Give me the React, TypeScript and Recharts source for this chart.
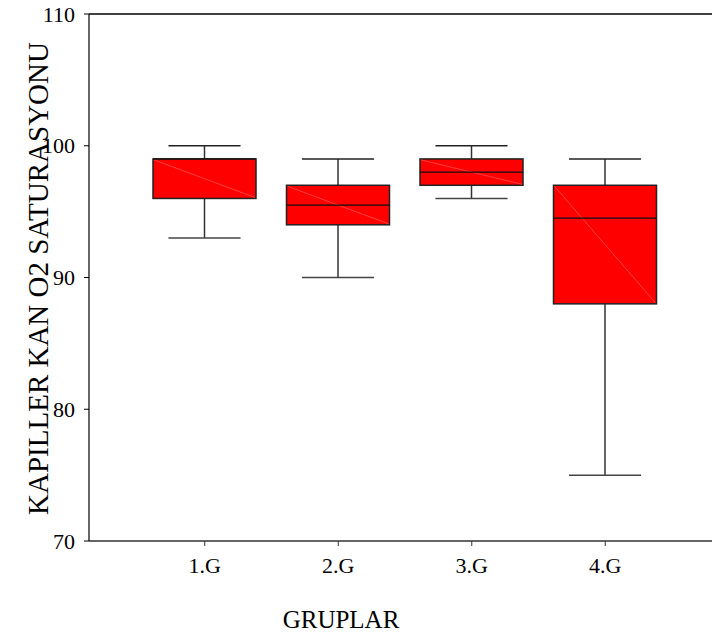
import { Bar, ComposedChart, ReferenceLine, XAxis, YAxis } from "recharts";

const groups = ["1.G", "2.G", "3.G", "4.G"];
const whiskerLow = [93, 90, 96, 75];
const quartile1 = [96, 94, 97, 88];
const medians = [99, 95.5, 98, 94.5];
const quartile3 = [99, 97, 99, 97];
const whiskerHigh = [100, 99, 100, 99];
const yTicks = [70, 80, 90, 100, 110];

const data = groups.map((name, i) => ({
  name,
  min: whiskerLow[i],
  q1: quartile1[i],
  median: medians[i],
  q3: quartile3[i],
  max: whiskerHigh[i]
}));

const FONT = "'Liberation Serif', 'Times New Roman', serif";

function BoxShape(props: any) {
  const { x, y, width, height, payload } = props;
  const top = Math.min(y, y + height);
  const bottom = Math.max(y, y + height);
  const span = payload.max - payload.min;
  // linear scale in pixels, derived from the bar's own min/max
  const py = (v: number) => top + ((payload.max - v) / span) * (bottom - top);
  const cx = x + width / 2;
  const capHalf = width * 0.35;
  const yQ1 = py(payload.q1);
  const yQ3 = py(payload.q3);
  const yMed = py(payload.median);

  return (
    <g>
      <line x1={cx} x2={cx} y1={top} y2={yQ3} stroke="#333" strokeWidth={1.5} />
      <line x1={cx} x2={cx} y1={yQ1} y2={bottom} stroke="#333" strokeWidth={1.5} />
      <line x1={cx - capHalf} x2={cx + capHalf} y1={top} y2={top} stroke="#222" strokeWidth={1.5} />
      <line x1={cx - capHalf} x2={cx + capHalf} y1={bottom} y2={bottom} stroke="#444" strokeWidth={1.5} />
      <rect x={x} y={yQ3} width={width} height={yQ1 - yQ3} fill="#ff0000" stroke="#222" strokeWidth={1.5} />
      <line x1={x + 1} y1={yQ3 + 1} x2={x + width - 1} y2={yQ1 - 1} stroke="#ff6a6a" strokeWidth={0.6} />
      <line x1={x} x2={x + width} y1={yMed} y2={yMed} stroke="#111" strokeWidth={1.3} />
    </g>
  );
}

function XTick({ x, y, payload }: any) {
  return (
    <text x={x} y={y} dy="0.71em" textAnchor="middle" fontFamily={FONT} fontSize={22} fill="#000">
      {payload.value}
    </text>
  );
}

function YTick({ x, y, payload }: any) {
  return (
    <text x={x} y={y} dy="0.35em" textAnchor="end" fontFamily={FONT} fontSize={22} fill="#000">
      {payload.value}
    </text>
  );
}

export default function App() {
  return (
    <div style={{ position: "absolute", left: 0, top: 0, width: 712, height: 639, background: "#fff" }}>
      <ComposedChart width={712} height={639} data={data} margin={{ top: 14, right: 0, bottom: 0, left: 0 }}>
        <XAxis
          dataKey="name"
          height={98}
          padding={{ left: 49, right: 40 }}
          axisLine={{ stroke: "#333", strokeWidth: 1.6 }}
          tickLine={{ stroke: "#333" }}
          tickSize={5}
          tickMargin={11}
          tick={<XTick />}
          label={{
            content: ({ viewBox }: any) => (
              <text x={viewBox.x + 252} y={628} textAnchor="middle" fontFamily={FONT} fontSize={25} fill="#000">
                GRUPLAR
              </text>
            )
          }}
        />
        <YAxis
          type="number"
          domain={[70, 110]}
          ticks={yTicks}
          width={89}
          axisLine={{ stroke: "#000", strokeWidth: 1.2 }}
          tickLine={{ stroke: "#000" }}
          tickSize={5}
          tickMargin={9}
          tick={<YTick />}
          label={{
            content: ({ viewBox }: any) => (
              <text
                x={0}
                y={0}
                transform={`translate(48, ${viewBox.y + viewBox.height / 2 + 1}) rotate(-90)`}
                textAnchor="middle"
                fontFamily={FONT}
                fontSize={29}
                fill="#000"
              >
                KAPILLER KAN O2 SATURASYONU
              </text>
            )
          }}
        />
        <ReferenceLine y={110} stroke="#000" strokeWidth={1.5} />
        <Bar
          dataKey={(d: any) => [d.min, d.max]}
          barSize={103}
          shape={<BoxShape />}
          isAnimationActive={false}
        />
      </ComposedChart>
    </div>
  );
}
